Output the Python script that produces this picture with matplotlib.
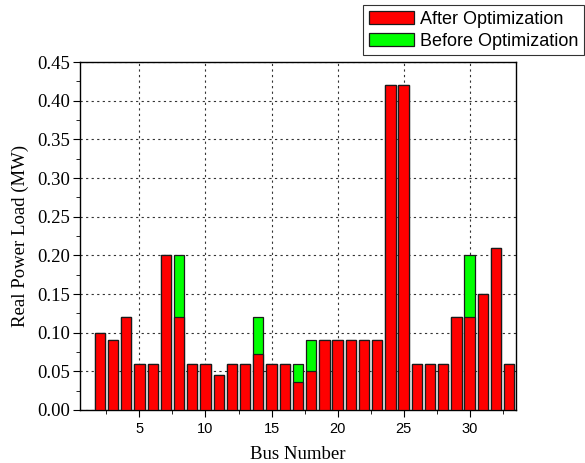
import matplotlib
matplotlib.use('Agg')
import matplotlib.pyplot as plt
from matplotlib.ticker import MultipleLocator, FormatStrFormatter

bus = list(range(2, 34))
before = [0.10, 0.09, 0.12, 0.06, 0.06, 0.20, 0.20, 0.06, 0.06, 0.045,
          0.06, 0.06, 0.12, 0.06, 0.06, 0.06, 0.09, 0.09, 0.09, 0.09,
          0.09, 0.09, 0.42, 0.42, 0.06, 0.06, 0.06, 0.12, 0.20, 0.15,
          0.21, 0.06]
after = [0.10, 0.09, 0.12, 0.06, 0.06, 0.20, 0.12, 0.06, 0.06, 0.045,
         0.06, 0.06, 0.072, 0.06, 0.06, 0.036, 0.05, 0.09, 0.09, 0.09,
         0.09, 0.09, 0.42, 0.42, 0.06, 0.06, 0.06, 0.12, 0.12, 0.15,
         0.21, 0.06]

fig = plt.figure(figsize=(5.85, 4.63), dpi=100)
ax = fig.add_axes([0.1368, 0.1145, 0.745, 0.7515])

ax.bar(bus, before, width=0.78, color='#00ff00', edgecolor='#1a1a1a', linewidth=0.9,
       label='Before Optimization', zorder=2)
ax.bar(bus, after, width=0.78, color='#ff0000', edgecolor='#1a1a1a', linewidth=0.9,
       label='After Optimization', zorder=3)

ax.set_xlim(0.5, 33.5)
ax.set_ylim(0, 0.45)
ax.xaxis.set_major_locator(MultipleLocator(5))
ax.xaxis.set_minor_locator(MultipleLocator(2.5))
ax.yaxis.set_major_locator(MultipleLocator(0.05))
ax.yaxis.set_minor_locator(MultipleLocator(0.025))
ax.yaxis.set_major_formatter(FormatStrFormatter('%.2f'))
ax.grid(True, which='major', linestyle=(0, (2, 3)), color='#333333', linewidth=0.8, zorder=0)
ax.set_axisbelow(True)

ax.tick_params(which='major', direction='out', length=5)
ax.tick_params(which='minor', direction='out', length=3)
ax.tick_params(top=False, right=False)
ax.xaxis.set_tick_params(labelfontfamily='Liberation Sans', labelsize=10.5)
ax.yaxis.set_tick_params(labelfontfamily='Liberation Serif', labelsize=13.5, pad=2)
for s in ax.spines.values():
    s.set_linewidth(1.0)

ax.set_xlabel('Bus Number', fontfamily='Liberation Serif', fontsize=13.5, labelpad=7)
ax.set_ylabel('Real Power Load (MW)', fontfamily='Liberation Serif', fontsize=13.5, labelpad=6)

h, l = ax.get_legend_handles_labels()
leg = fig.legend(h[::-1], l[::-1], loc='upper right', bbox_to_anchor=(0.998, 0.989),
                 prop={'family': 'Liberation Sans', 'size': 13}, frameon=True,
                 fancybox=False, edgecolor='black', borderpad=0.3, labelspacing=0.28,
                 handlelength=2.5, handleheight=0.78, handletextpad=0.35, borderaxespad=0)
leg.get_frame().set_linewidth(0.8)

fig.savefig('out.png', dpi=100)
